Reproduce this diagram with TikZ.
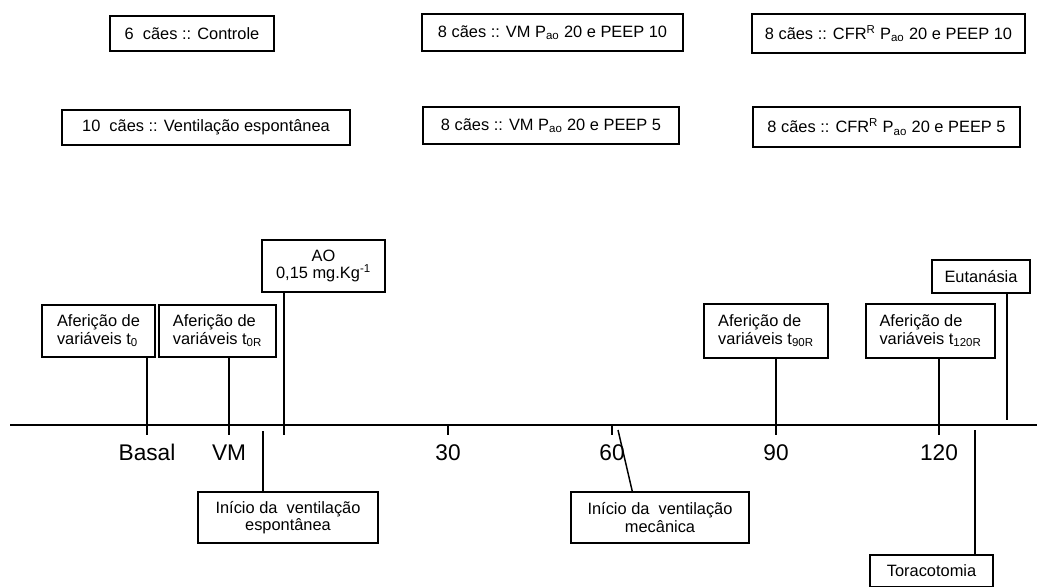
\documentclass[tikz,border=0pt]{standalone}
\usepackage{fontspec}
\setmainfont{Liberation Sans}
\usepackage{tikz}
\usetikzlibrary{positioning}

\begin{document}
\begin{tikzpicture}[
			x=0.75pt, y=-0.75pt,
			box/.style={draw, line width=1.1pt, rectangle, inner sep=2pt, align=center, font=\fontsize{12.3}{13}\selectfont},
			lbox/.style={box, align=left},
			stem/.style={line width=1.1pt},
			ticklabel/.style={anchor=base, inner sep=0pt, font=\fontsize{17}{20}\selectfont}
			]
			\useasboundingbox (0,0) rectangle (1037,586);
			
			% Groups
			\node (ctrl) [box, minimum width=123pt, minimum height=26.25pt] at (192,33.5) {6\ \ cães :: Controle};
			\node (esp) [box, minimum width=216pt, minimum height=26.25pt] at (206,127.5) {10\ \ cães :: Ventilação espontânea};
			\node (vm10) [box, minimum width=195.75pt, minimum height=27.75pt] at (552.5,32.5) {8 cães :: VM P\textsubscript{ao} 20 e PEEP 10};
			\node (vm5) [box, minimum width=192pt, minimum height=27.75pt] at (551,125.5) {8 cães :: VM P\textsubscript{ao} 20 e PEEP 5};
			\node (cfr10) [box, minimum width=204.75pt, minimum height=29.25pt] at (888.5,33.5) {8 cães :: CFR\textsuperscript{R} P\textsubscript{ao} 20 e PEEP 10};
			\node (cfr5) [box, minimum width=200.25pt, minimum height=30pt] at (886.5,127) {8 cães :: CFR\textsuperscript{R} P\textsubscript{ao} 20 e PEEP 5};
			
			% Time axis
			\coordinate (axL) at (10,425);
			\coordinate (axR) at (1037,425);
			\draw [stem] (axL) -- (axR);
			
			\coordinate (basal) at (147,435);
			\coordinate (vm) at (229,435);
			\coordinate (ao) at (284,435);
			\coordinate (m30) at (448,435);
			\coordinate (m60) at (612,435);
			\coordinate (m90) at (776,435);
			\coordinate (m120) at (939,435);
			
			\node (lbasal) [ticklabel] at (147,460) {Basal};
			\node (lvm) [ticklabel] at (229,460) {VM};
			\node (l30) [ticklabel] at (448,460) {30};
			\node (l60) [ticklabel] at (612,460) {60};
			\node (l90) [ticklabel] at (776,460) {90};
			\node (l120) [ticklabel] at (939,460) {120};
			
			% Events above the axis
			\node (t0) [lbox, minimum width=84.75pt, minimum height=39pt] at (98.5,331) {Aferição de\\variáveis t\textsubscript{0}};
			\node (t0r) [lbox, minimum width=87.75pt, minimum height=39pt] at (217.5,331) {Aferição de\\variáveis t\textsubscript{0R}};
			\node (aobox) [box, minimum width=92.25pt, minimum height=39pt] at (323.5,266) {AO\\0,15 mg.Kg\textsuperscript{-1}};
			\node (t90) [lbox, minimum width=93pt, minimum height=40.5pt] at (766,331) {Aferição de\\variáveis t\textsubscript{90R}};
			\node (t120) [lbox, minimum width=96.75pt, minimum height=40.5pt] at (930.5,331) {Aferição de\\variáveis t\textsubscript{120R}};
			\node (eut) [box, minimum width=73.5pt, minimum height=24.75pt] at (981,276.5) {Eutanásia};
			\coordinate (eutE) at (1007,420);
			
			% Events below the axis
			\node (inesp) [box, minimum width=135pt, minimum height=38.25pt] at (288,517.5) {Início da\ \ ventilação\\espontânea};
			\node (inmec) [box, minimum width=133.5pt, minimum height=38.25pt] at (660,517.5) {Início da\ \ ventilação\\mecânica};
			\node (tora) [box, minimum width=92.25pt, minimum height=24pt] at (931.5,571) {Toracotomia};
			\coordinate (espS) at (263,431);
			\coordinate (mecS) at (618,430);
			\path (inmec.north west) ++(62,0) coordinate (mecE);
			\coordinate (toraS) at (975,430);
			
			% Connections
			\draw [stem] (t0.south -| basal) -- (basal);
			\draw [stem] (t0r.south -| vm) -- (vm);
			\draw [stem] (aobox.south -| ao) -- (ao);
			\draw [stem] (axL -| m30) -- (m30);
			\draw [stem] (axL -| m60) -- (m60);
			\draw [stem] (t90.south -| m90) -- (m90);
			\draw [stem] (t120.south -| m120) -- (m120);
			\draw [stem] (eut.south -| eutE) -- (eutE);
			\draw [stem] (espS) -- (inesp.north -| espS);
			\draw [stem] (mecS) -- (mecE);
			\draw [stem] (toraS) -- (tora.north -| toraS);
			
		\end{tikzpicture}
\end{document}
